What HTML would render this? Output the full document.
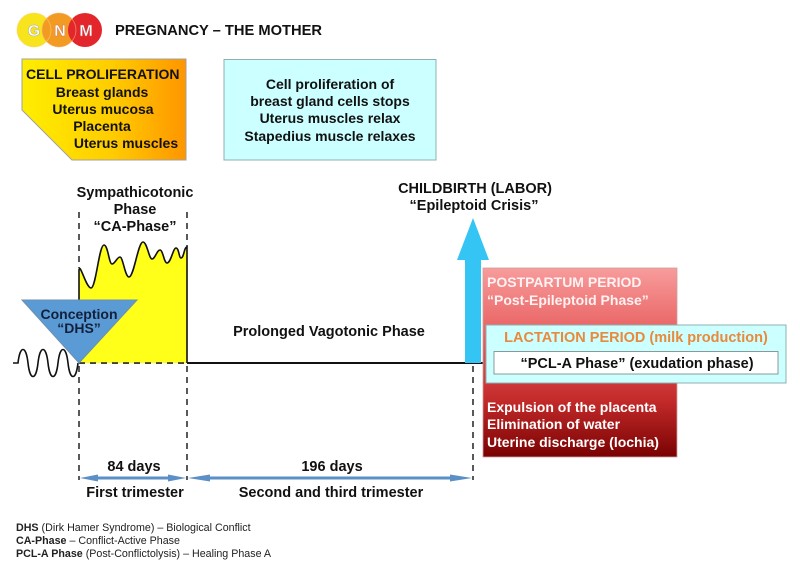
<!DOCTYPE html>
<html><head><meta charset="utf-8"><style>
html,body{margin:0;padding:0;background:#fff;}
svg{display:block;}
text{font-family:"Liberation Sans",Arial,sans-serif;}
.b{font-weight:bold;}
</style></head><body>
<svg width="800" height="572" viewBox="0 0 800 572" xmlns="http://www.w3.org/2000/svg">
<defs>
<linearGradient id="yg" x1="0" y1="0" x2="1" y2="0">
<stop offset="0" stop-color="#ffee00"/><stop offset="0.55" stop-color="#ffcc00"/><stop offset="1" stop-color="#ff9500"/>
</linearGradient>
<linearGradient id="rg" x1="0" y1="0" x2="0" y2="1">
<stop offset="0" stop-color="#f89c9c"/><stop offset="0.35" stop-color="#e86060"/><stop offset="0.7" stop-color="#c42a2a"/><stop offset="1" stop-color="#7a0202"/>
</linearGradient>
</defs>
<rect width="800" height="572" fill="#fff"/>

<!-- Logo -->
<circle cx="34" cy="30" r="17" fill="#f7e41c"/>
<circle cx="59" cy="30" r="17" fill="#f39a22"/>
<circle cx="85" cy="30" r="17" fill="#e3262b"/>
<circle cx="34" cy="30" r="17" fill="none" stroke="#fbd070" stroke-width="0.8" opacity="0.7"/>
<circle cx="59" cy="30" r="17" fill="none" stroke="#f6b070" stroke-width="0.8" opacity="0.7"/>
<text x="34" y="36" text-anchor="middle" class="b" font-size="16" fill="#fff" stroke="#aaa" stroke-width="0.5">G</text>
<text x="60" y="36" text-anchor="middle" class="b" font-size="16" fill="#fff" stroke="#c77" stroke-width="0.4">N</text>
<text x="86" y="36" text-anchor="middle" class="b" font-size="16" fill="#fff" stroke="#c55" stroke-width="0.4">M</text>
<text x="115" y="35" class="b" font-size="14.7" fill="#111">PREGNANCY – THE MOTHER</text>

<!-- Yellow box -->
<polygon points="22,59 186,59 186,160 72,160 22,110" fill="url(#yg)" stroke="#a0a0a0" stroke-width="1"/>
<g class="b" font-size="14" fill="#111">
<text x="26" y="79">CELL PROLIFERATION</text>
<text x="102" y="97" text-anchor="middle">Breast glands</text>
<text x="103" y="114" text-anchor="middle">Uterus mucosa</text>
<text x="102" y="131" text-anchor="middle">Placenta</text>
<text x="126" y="148" text-anchor="middle">Uterus muscles</text>
</g>

<!-- Cyan box -->
<rect x="224" y="59.5" width="212" height="100.5" fill="#ccffff" stroke="#8fb0b0" stroke-width="1"/>
<g class="b" font-size="14" fill="#111" text-anchor="middle">
<text x="330" y="89">Cell proliferation of</text>
<text x="330" y="106">breast gland cells stops</text>
<text x="330" y="123">Uterus muscles relax</text>
<text x="330" y="141">Stapedius muscle relaxes</text>
</g>

<!-- Sympathicotonic -->
<g class="b" font-size="14.5" fill="#111" text-anchor="middle">
<text x="135" y="197">Sympathicotonic</text>
<text x="135" y="214">Phase</text>
<text x="135" y="231">“CA-Phase”</text>
</g>

<!-- Dashed verticals -->
<g stroke="#222" stroke-width="1.5" stroke-dasharray="6,5" fill="none">
<line x1="79" y1="212" x2="79" y2="268"/>
<line x1="187" y1="212" x2="187" y2="247"/>
<line x1="79" y1="366" x2="79" y2="480"/>
<line x1="187" y1="366" x2="187" y2="480"/>
<line x1="473" y1="366" x2="473" y2="480"/>
<line x1="79" y1="363" x2="187" y2="363"/>
</g>

<!-- Yellow wave area -->
<path d="M79,363 L79,270 C80,262 86,288 91,288 C96,288 99,245 104,245 C108,245 109,264 112,264 C115,264 117,257 120,257 C123,257 125,277 129,277 C134,277 138,242 143,242 C147,242 149,259 152,259 C155,259 157,250 160,250 C163,250 164,263 167,263 C171,263 173,248 176,248 C179,248 179,258 181,258 C184,258 184,247 187,247 L187,363 Z" fill="#ffff1a"/>
<path d="M79,300 L79,270 C80,262 86,288 91,288 C96,288 99,245 104,245 C108,245 109,264 112,264 C115,264 117,257 120,257 C123,257 125,277 129,277 C134,277 138,242 143,242 C147,242 149,259 152,259 C155,259 157,250 160,250 C163,250 164,263 167,263 C171,263 173,248 176,248 C179,248 179,258 181,258 C184,258 184,247 187,247 L187,363" fill="none" stroke="#111" stroke-width="1.6"/>
<line x1="79" y1="363" x2="187" y2="363" stroke="#222" stroke-width="1.5" stroke-dasharray="6,5"/>

<!-- Left sine wave -->
<path d="M13,363 L18,363 C20,345 26,345 28,363 C30,381 36,381 38,363 C40,345 46,345 48,363 C50,381 56,381 58,363 C60,345 66,345 68,363 C70,381 76,381 78,363" fill="none" stroke="#111" stroke-width="1.6"/>

<!-- Main horizontal line -->
<line x1="187" y1="363" x2="484" y2="363" stroke="#111" stroke-width="2"/>

<!-- Conception triangle -->
<polygon points="22,300 137,300 79,363" fill="#5b9bd5" stroke="#6c8fb0" stroke-width="1"/>
<g class="b" font-size="14" fill="#14203a" text-anchor="middle">
<text x="79" y="319">Conception</text>
<text x="79" y="333">“DHS”</text>
</g>

<text x="329" y="336" text-anchor="middle" class="b" font-size="14.5" fill="#111">Prolonged Vagotonic Phase</text>

<!-- Childbirth -->
<g class="b" font-size="14.5" fill="#111" text-anchor="middle">
<text x="475" y="193">CHILDBIRTH (LABOR)</text>
<text x="474" y="210">“Epileptoid Crisis”</text>
</g>
<polygon points="465,363 465,260 457,260 473,218 489,260 481,260 481,363" fill="#35c5f4"/>

<!-- Red box -->
<rect x="483" y="268" width="194" height="189" fill="url(#rg)" stroke="#c9a0a0" stroke-width="0.8"/>
<g class="b" font-size="14" fill="#fff">
<text x="487" y="287" fill="#fff2f2">POSTPARTUM PERIOD</text>
<text x="487" y="305" fill="#fff2f2">“Post-Epileptoid Phase”</text>
<text x="487" y="412">Expulsion of the placenta</text>
<text x="487" y="429">Elimination of water</text>
<text x="487" y="447">Uterine discharge (lochia)</text>
</g>

<!-- Lactation box -->
<rect x="486" y="325" width="300" height="58" fill="#ccffff" stroke="#8fb0b0" stroke-width="1"/>
<text x="636" y="342" text-anchor="middle" class="b" font-size="14.5" fill="#e8893c">LACTATION PERIOD (milk production)</text>
<rect x="494" y="351.5" width="284" height="22.5" fill="#fff" stroke="#8a9a9a" stroke-width="1"/>
<text x="637" y="368" text-anchor="middle" class="b" font-size="14.5" fill="#111">“PCL-A Phase” (exudation phase)</text>

<!-- Bottom arrows -->
<g fill="#5b8fc7">
<rect x="92" y="476.5" width="82" height="3"/>
<polygon points="80,478 98,474.5 98,481.5"/>
<polygon points="186,478 168,474.5 168,481.5"/>
<rect x="200" y="476.5" width="259" height="3"/>
<polygon points="188,478 210,474.5 210,481.5"/>
<polygon points="472,478 450,474.5 450,481.5"/>
</g>
<g class="b" font-size="14.5" fill="#111" text-anchor="middle">
<text x="134" y="471">84 days</text>
<text x="332" y="471">196 days</text>
<text x="135" y="497">First trimester</text>
<text x="331" y="497">Second and third trimester</text>
</g>

<!-- Legend -->
<g font-size="10.7" fill="#222">
<text x="16" y="531"><tspan font-weight="bold">DHS</tspan> (Dirk Hamer Syndrome) – Biological Conflict</text>
<text x="16" y="544"><tspan font-weight="bold">CA-Phase</tspan> – Conflict-Active Phase</text>
<text x="16" y="557"><tspan font-weight="bold">PCL-A Phase</tspan> (Post-Conflictolysis) – Healing Phase A</text>
</g>
</svg>
</body></html>
